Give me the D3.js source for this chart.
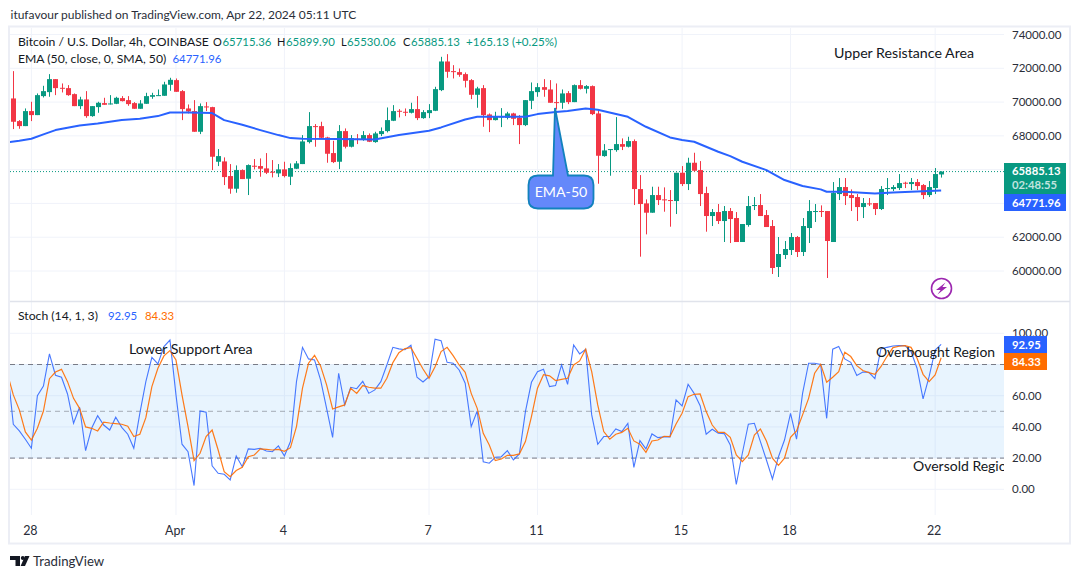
<!DOCTYPE html>
<html>
<head>
<meta charset="utf-8">
<title>BTCUSD 4h</title>
<script src="https://cdnjs.cloudflare.com/ajax/libs/d3/7.8.5/d3.min.js"></script>
<style>
  html, body { margin: 0; padding: 0; background: #fff; }
  svg { display: block; }
  text { font-family: "Lato", sans-serif; fill: #131722; }
  .grid { stroke: #f0f3fa; stroke-width: 1; }
  .axis text { font-size: 11.5px; fill: #2a2e39; }
  .axis path, .axis line { display: none; }
</style>
</head>
<body>
<svg id="chart" width="1080" height="579"></svg>
<script>
// candles, oldest first
var opens = [
  70215,68874,68578,69466,69229,70353,70590,71359,70846,70826,
  70471,69761,70156,69170,69702,69939,69880,69899,70235,70116,
  69939,69604,69899,70314,70373,70373,71024,71300,70649,69623,
  69466,68243,69742,69702,66468,66488,65620,64871,65975,65462,
  66231,66212,66074,65877,65778,66015,65581,66054,66330,67632,
  68578,68578,67908,66981,66468,68282,67356,67829,67790,68046,
  67632,68105,68282,68894,69485,69426,69367,69584,69051,69347,
  69485,70708,72404,71832,71773,71655,71300,70432,70826,69268,
  68933,69111,69071,69328,69071,68637,70077,70590,70885,70747,
  69998,69959,70530,69998,71004,70787,70945,69328,66803,67179,
  67159,67513,67356,67691,64851,64003,63451,64496,64240,64200,
  64141,65817,65147,66409,65975,64615,63254,63490,62958,63550,
  63135,61716,62722,63865,63905,63313,62662,60236,60947,61242,
  62011,61124,62544,63510,63550,63550,61716,64555,64970,64496,
  64378,63786,64003,64023,63668,64871,64851,64910,65226,65147,
  65265,65088,64496,64910,65715.36];
var highs = [
  71832,68933,69623,70018,70511,70964,71655,71359,71102,71004,
  70511,70314,70649,69761,70018,70254,70412,70314,70353,70353,
  69998,70116,70550,70550,70747,71201,71438,71398,70708,69860,
  70116,69919,69998,69722,67218,66725,66330,66251,66015,66310,
  66626,66665,66981,66567,66330,66468,66370,66507,68046,69406,
  68697,68835,67947,67710,68637,68440,68046,68105,68282,68144,
  68243,68499,69682,69820,69584,69623,69959,70353,69525,69880,
  70905,72680,72838,72187,71990,71753,71359,70905,71004,69328,
  69426,69643,69426,69367,69229,70116,71162,71122,71359,71300,
  71102,70747,70649,71043,71300,71004,70984,69584,67513,67218,
  69111,67849,67947,67789,65679,64240,64989,64989,64950,64792,
  65817,66212,66705,67000,66507,64989,63668,63964,63846,63727,
  63490,62781,64437,64378,64555,63609,63017,62011,61775,62248,
  62071,63135,64200,63964,63885,63550,65265,65502,65502,64831,
  64555,64319,64319,64023,65029,65502,65088,65739,65285,65502,
  65443,65147,65324,66094,65899.9];
var lows = [
  68401,68420,68578,68874,69229,70274,70314,70412,70570,70373,
  69761,69584,69071,69130,69367,69840,69860,69880,70038,69781,
  69604,69604,69899,70195,70373,70373,70669,70609,68933,69328,
  68243,68105,69466,65975,66212,65088,64575,64634,65443,64496,
  66015,65581,65739,65541,65561,65541,65088,66034,66330,67553,
  67356,67849,66409,66389,66034,67257,67316,67513,67710,67632,
  67592,67987,68203,68874,69091,69170,69328,68933,69012,69051,
  69466,70649,71438,71398,71497,70866,70176,69663,68539,68223,
  68913,68519,68973,68637,67513,68578,69584,70314,70314,69959,
  69564,69604,69880,69998,70747,70511,69229,65167,66764,65640,
  67060,67159,67316,63905,60848,62169,63451,63905,63510,62623,
  63372,65029,64792,65877,63846,62327,62662,62781,61716,61656,
  61716,61716,62623,63609,63254,62603,59823,59645,60710,60947,
  60828,60887,61656,62899,63195,59586,61716,64200,63905,63550,
  62958,63135,63846,63313,63609,64496,64733,64792,64910,64792,
  64792,64259,64378,64555,65530.06];
var closes = [
  68835,68578,69466,69229,70412,70649,71359,70826,70807,70412,
  69761,70156,69170,69761,69959,69840,69919,70254,70057,69880,
  69604,69919,70353,70412,70412,71043,71319,70609,69584,69446,
  68243,69761,69702,66764,66803,65561,64871,65975,65443,66271,
  66192,66054,65817,65837,66015,65620,66094,66370,67671,68578,
  68539,67888,66941,66448,68282,67356,67868,67809,68046,67651,
  68144,68282,68933,69466,69446,69387,69584,69051,69406,69525,
  70767,72404,71793,71793,71615,71260,70432,70807,69229,68933,
  69150,69150,69328,69012,68637,70116,70649,70885,70728,69959,
  69959,70511,69998,71004,70787,70945,69288,66823,67139,67218,
  67513,67356,67691,64851,63964,63451,64496,64200,64200,64161,
  65817,65147,66409,65936,64555,63254,63490,62958,63550,63076,
  61716,62781,63846,63905,63254,62603,60177,61006,61302,62011,
  61124,62662,63550,63550,63510,61775,64615,64970,64437,64319,
  63786,64023,63964,63668,64851,64910,64970,65206,65187,65265,
  65029,64496,64970,65739,65885.13];

// EMA 50, read at these candle numbers
var emaIndex = [-1,1,3,5,7,9,11,14,18,21,24,26,29,33,35,38,41,44,46,48,54,60,64,69,71,75,77,85,87,90,92,95,97,102,105,109,111,113,117,119,121,125,128,131,134,135,138,143,146,154];
var emaValues = [67612,67710,67829,68085,68342,68480,68618,68736,68933,69012,69170,69387,69387,69347,68933,68657,68342,68046,67868,67829,67809,67790,68046,68302,68500,68973,69130,69130,69288,69406,69466,69623,69544,69130,68539,67908,67750,67651,67060,66803,66468,65975,65384,65029,64832,64693,64693,64595,64654,64771.96];

// stochastic, first value belongs to the candle just left of the window
var stochK = [
  78.6,41.7,37.4,32.1,26.3,60.0,66.2,86.8,73.1,71.8,61.1,42.3,52.6,24.8,39.1,47.2,41.2,38.0,46.2,39.7,
  35.3,26.3,48.7,69.0,84.6,80.4,91.5,95.7,60.5,28.9,24.1,2.4,50.2,49.4,15.0,10.3,9.6,6.0,21.4,14.5,
  25.9,25.6,26.3,24.6,24.1,27.8,21.4,30.6,69.0,91.0,83.6,82.9,70.1,51.9,33.3,74.4,
  54.1,65.4,64.5,69.2,61.5,63.7,69.0,79.7,91.0,90.0,89.5,92.3,71.8,68.8,72.2,96.2,95.3,81.4,80.8,76.5,
  68.0,40.2,50.2,17.7,16.7,20.5,20.9,24.8,18.8,22.7,49.8,68.6,75.4,76.9,65.8,66.5,79.7,67.3,92.5,86.8,
  89.8,47.7,28.9,33.8,33.8,38.7,37.0,42.3,14.1,31.2,25.9,35.5,33.1,33.6,
  33.6,57.3,53.4,67.3,61.5,53.6,35.3,38.5,35.9,35.7,28.4,3.2,23.1,41.7,42.3,30.6,18.8,6.6,20.9,31.6,
  48.7,32.1,61.5,80.8,80.8,80.1,45.5,89.8,91.5,83.6,81.4,72.9,75.2,75.0,70.9,90.0,91.0,91.9,92.1,92.1,
  88.3,77.6,57.9,72.2,89.3,92.95];
var stochD = [
  74.4,60.5,50.9,36.8,31.6,39.1,50.2,70.9,75.2,76.9,69.0,58.3,51.9,40.0,39.1,37.4,43.0,42.5,42.1,41.7,
  40.4,33.8,35.3,45.9,65.8,77.6,85.5,88.9,82.9,60.5,40.2,18.4,23.1,33.8,38.0,25.2,11.3,8.1,12.0,14.1,
  20.9,22.0,25.9,25.6,25.2,25.6,24.4,26.7,40.2,64.8,80.8,85.9,79.1,66.9,51.5,52.8,
  54.1,64.8,61.5,66.5,65.4,64.8,64.8,71.2,81.2,87.6,90.2,90.8,84.0,77.1,71.2,78.6,88.3,91.0,85.7,79.7,
  75.0,61.5,51.9,35.9,28.4,18.4,19.4,21.8,21.8,22.7,30.6,46.6,64.8,73.5,72.7,69.7,70.5,71.2,79.7,82.3,
  89.8,75.4,54.1,37.0,32.1,35.3,36.5,39.1,31.0,28.9,23.7,31.0,31.6,34.0,
  33.8,41.9,48.7,59.4,60.9,61.1,49.8,41.2,36.5,36.5,33.3,22.0,17.7,22.0,34.8,38.7,31.0,19.9,15.4,19.9,
  33.3,37.4,47.7,58.3,74.4,80.1,68.6,71.8,75.4,87.8,85.1,79.3,76.1,74.8,73.7,78.6,85.1,90.8,91.7,92.1,
  91.0,84.0,73.7,69.0,73.3,84.33];

var dateIndex = [3,27,45,69,87,111,129,153];
var dateLabels = ["28","Apr","4","7","11","15","18","22"];
var priceTicks = [60000,62000,64000,66000,68000,70000,72000,74000];
var stochGrid = [0,20,40,60,80,100];
var stochTicks = [0,20,40,60,100]; // 80.00 sits behind the orange tag
var lastClose = 65885.13, lastEma = 64771.96, lastK = 92.95, lastD = 84.33;

var GREEN = "#089981", RED = "#f23645", BLUE = "#2962ff", ORANGE = "#ff6d00";

var svg = d3.select("#chart");

var x = d3.scaleLinear().domain([0, 154]).range([13.3, 941.15]);
var yPrice = d3.scaleLinear().domain([60000, 72000]).range([271, 68.3]);
var yStoch = d3.scaleLinear().domain([0, 100]).range([489.3, 333.3]);

var defs = svg.append("defs");
defs.append("clipPath").attr("id", "paneClip").append("rect")
  .attr("x", 10).attr("y", 28).attr("width", 994).attr("height", 487);

// outer frame
svg.append("rect").attr("x", 9).attr("y", 26.5).attr("width", 1061).attr("height", 517)
  .attr("fill", "#fff").attr("stroke", "#eceef5").attr("stroke-width", 2);

// grid
svg.append("g").selectAll("line").data(dateIndex).join("line").attr("class", "grid")
  .attr("x1", d => x(d)).attr("x2", d => x(d)).attr("y1", 28).attr("y2", 515);
svg.append("g").selectAll("line").data(priceTicks).join("line").attr("class", "grid")
  .attr("x1", 10).attr("x2", 1004).attr("y1", d => yPrice(d)).attr("y2", d => yPrice(d));
svg.append("g").selectAll("line").data(stochGrid).join("line").attr("class", "grid")
  .attr("x1", 10).attr("x2", 1004).attr("y1", d => yStoch(d)).attr("y2", d => yStoch(d));

// pane separator
svg.append("line").attr("x1", 10).attr("x2", 1070).attr("y1", 301.5).attr("y2", 301.5)
  .attr("stroke", "#e0e3eb").attr("stroke-width", 1.5);

var pane = svg.append("g").attr("clip-path", "url(#paneClip)");

// last price dotted line
pane.append("line").attr("x1", 10).attr("x2", 1004)
  .attr("y1", yPrice(lastClose)).attr("y2", yPrice(lastClose))
  .attr("stroke", GREEN).attr("stroke-width", 1).attr("stroke-dasharray", "1 2");

// candles
var candles = pane.append("g").selectAll("g").data(d3.range(opens.length)).join("g");
candles.append("line")
  .attr("x1", i => Math.round(x(i)) + 0.5).attr("x2", i => Math.round(x(i)) + 0.5)
  .attr("y1", i => yPrice(highs[i])).attr("y2", i => yPrice(lows[i]))
  .attr("stroke", i => closes[i] >= opens[i] ? GREEN : RED).attr("stroke-width", 1);
candles.append("rect")
  .attr("x", i => Math.round(x(i)) - 2).attr("width", 5)
  .attr("y", i => yPrice(Math.max(opens[i], closes[i])))
  .attr("height", i => Math.max(1, Math.abs(yPrice(opens[i]) - yPrice(closes[i]))))
  .attr("fill", i => closes[i] >= opens[i] ? GREEN : RED);

// EMA line
pane.append("path")
  .attr("d", d3.line().x((d, i) => x(emaIndex[i])).y(d => yPrice(d))(emaValues))
  .attr("fill", "none").attr("stroke", BLUE).attr("stroke-width", 2)
  .attr("stroke-linejoin", "round");

// stochastic band and levels
pane.append("rect").attr("x", 10).attr("width", 994)
  .attr("y", yStoch(80)).attr("height", yStoch(20) - yStoch(80))
  .attr("fill", "#2196f3").attr("fill-opacity", 0.1);
pane.selectAll(".level").data([80, 50, 20]).join("line").attr("class", "level")
  .attr("x1", 10).attr("x2", 1004)
  .attr("y1", d => yStoch(d)).attr("y2", d => yStoch(d))
  .attr("stroke", "#787b86").attr("stroke-dasharray", "5 4")
  .attr("stroke-opacity", d => d == 50 ? 0.6 : 1);

var stochLine = d3.line().x((d, i) => x(i - 1)).y(d => yStoch(d));
pane.append("path").attr("d", stochLine(stochK))
  .attr("fill", "none").attr("stroke", BLUE).attr("stroke-width", 1.1).attr("stroke-opacity", 0.85);
pane.append("path").attr("d", stochLine(stochD))
  .attr("fill", "none").attr("stroke", ORANGE).attr("stroke-width", 1.2).attr("stroke-opacity", 0.9);

// axes
svg.append("g").attr("class", "axis").attr("transform", "translate(1012,0)")
  .call(d3.axisRight(yPrice).tickValues(priceTicks).tickSize(0).tickPadding(0).tickFormat(d3.format(".2f")));
svg.append("g").attr("class", "axis").attr("transform", "translate(1012,0)")
  .call(d3.axisRight(yStoch).tickValues(stochTicks).tickSize(0).tickPadding(0).tickFormat(d3.format(".2f")));
svg.append("g").attr("class", "axis").attr("transform", "translate(-1.5,526)")
  .call(d3.axisBottom(x).tickValues(dateIndex).tickSize(0).tickPadding(0).tickFormat((d, i) => dateLabels[i]))
  .selectAll("text").style("font-size", "12.5px");

// value labels on the axis
function tag(y, h, w, color) {
  svg.append("rect").attr("x", 1004).attr("y", y).attr("width", w).attr("height", h).attr("fill", color);
}
function tagText(y, s, op) {
  svg.append("text").attr("x", 1012).attr("y", y).attr("font-size", 11.3).attr("font-weight", 700)
    .style("fill", "#fff").style("fill-opacity", op || 1).text(s);
}
tag(163, 31, 62, GREEN);
tag(194, 17, 62, BLUE);
tagText(175, d3.format(".2f")(lastClose));
tagText(189, "02:48:55", 0.75);
tagText(206.5, d3.format(".2f")(lastEma));
tag(336, 17, 43, BLUE);
tag(353, 17, 43, ORANGE);
tagText(348.5, d3.format(".2f")(lastK));
tagText(365.5, d3.format(".2f")(lastD));

// legends
function label(xp, yp, s, color, size) {
  return svg.append("text").attr("x", xp).attr("y", yp).attr("font-size", size || 12.2)
    .style("fill", color || "#131722").text(s);
}
label(10.5, 19, "itufavour published on TradingView.com, Apr 22, 2024 05:11 UTC", "#2a2e39", 12);
label(18, 46, "Bitcoin / U.S. Dollar, 4h, COINBASE");
label(213, 46, "O", null, 11); label(222.5, 46, "65715.36", GREEN, 11.4);
label(277, 46, "H", null, 11); label(286, 46, "65899.90", GREEN, 11.4);
label(341, 46, "L", null, 11); label(347, 46, "65530.06", GREEN, 11.4);
label(403, 46, "C", null, 11); label(411, 46, "65885.13", GREEN, 11.4);
label(466, 46, "+165.13 (+0.25%)", GREEN, 11.6);
label(18, 63, "EMA (50, close, 0, SMA, 50)");
label(172.5, 63, "64771.96", BLUE, 11.4);
label(18, 320, "Stoch (14, 1, 3)");
label(108, 320, "92.95", BLUE, 11.4);
label(145, 320, "84.33", "#ff6d00", 11.4);

// drawn annotations
label(834, 58, "Upper Resistance Area", "#131722", 14.2);
label(129, 354, "Lower Support Area", "#131722", 14.2);
label(876, 357, "Overbought Region", "#131722", 13.9);
pane.append("text").attr("x", 913).attr("y", 471).attr("font-size", 14).text("Oversold Region");

// EMA-50 callout
svg.append("path")
  .attr("d", "M538,175.5 L553,175.5 L555,108 L568,175.5 L584,175.5 Q593.5,175.5 593.5,185 L593.5,199 Q593.5,208.5 584,208.5 L538,208.5 Q528.5,208.5 528.5,199 L528.5,185 Q528.5,175.5 538,175.5 Z")
  .attr("fill", "#6488fa").attr("stroke", "#1282bd").attr("stroke-width", 1.8);
svg.append("text").attr("x", 561).attr("y", 197).attr("text-anchor", "middle")
  .attr("font-size", 14.2).style("fill", "#fff").text("EMA-50");

// lightning icon
svg.append("circle").attr("cx", 941.5).attr("cy", 288.5).attr("r", 10)
  .attr("fill", "#fff").attr("stroke", "#9c27b0").attr("stroke-width", 1.6);
svg.append("path").attr("d", "M945.5,282.5 L936,290 L940.6,290 L937.5,294.5 L947,287 L942.4,287 Z")
  .attr("fill", "#9c27b0");

// TradingView logo
svg.append("path").attr("d", "M10,556 H20 V566 H15.5 V560 H10 Z").attr("fill", "#131722");
svg.append("circle").attr("cx", 22.8).attr("cy", 558).attr("r", 2).attr("fill", "#131722");
svg.append("path").attr("d", "M25,556 H29.5 L25,566 H20.6 Z").attr("fill", "#131722");
label(33, 566, "TradingView", "#2a2e39", 13.2);
</script>
</body>
</html>
